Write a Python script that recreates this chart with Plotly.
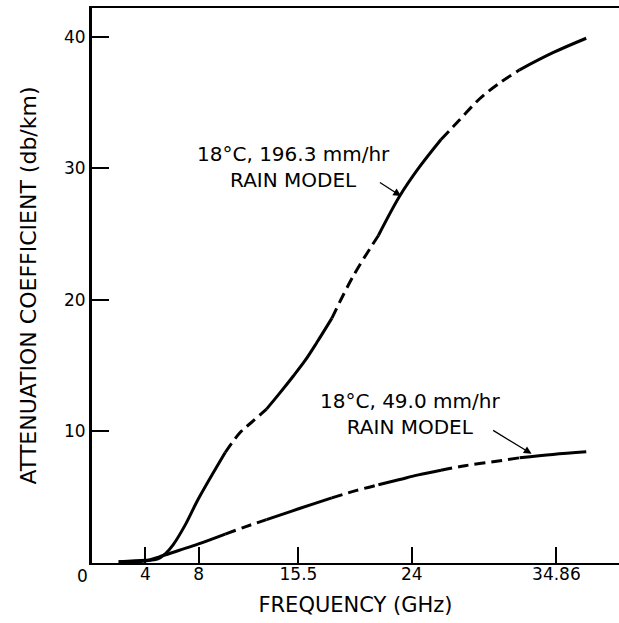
import plotly.graph_objects as go

# ── Values ─────────────────────────────────────────────────────────────────
FREQ_HIGH = [2.0, 4.0, 4.9, 5.5, 6.1, 7.0, 8.0, 10.0, 11.1, 12.1, 13.1, 14.0,
             15.1, 16.0, 16.9, 18.0, 19.6, 21.5, 23.1, 24.5, 26.2, 27.6, 29.1,
             30.6, 32.1, 34.6, 37.1]
ATTEN_HIGH = [0.1, 0.2, 0.3, 0.7, 1.4, 2.9, 4.9, 8.4, 9.9, 10.8, 11.7, 12.8,
              14.2, 15.4, 16.8, 18.6, 21.8, 24.9, 27.9, 30.0, 32.2, 33.7, 35.3,
              36.5, 37.5, 38.8, 39.9]

FREQ_LOW = [2.0, 4.0, 5.0, 6.5, 8.0, 10.0, 11.5, 13.1, 15.0, 16.8, 18.0, 19.8,
            21.5, 23.1, 24.5, 26.2, 28.0, 30.1, 32.1, 34.6, 37.1]
ATTEN_LOW = [0.1, 0.15, 0.45, 0.95, 1.45, 2.2, 2.75, 3.3, 3.95, 4.55, 4.95, 5.5,
             5.95, 6.35, 6.7, 7.05, 7.4, 7.7, 8.0, 8.25, 8.45]

X_TICKS = [4, 8, 15.5, 24, 34.86]
X_TICK_TEXT = ["4", "8", "15.5", "24", "34.86"]
Y_TICKS = [10, 20, 30, 40]

LABEL_HIGH = "18°C, 196.3 mm/hr<br>RAIN MODEL"
LABEL_LOW = "18°C, 49.0 mm/hr<br>RAIN MODEL"

# ── Style ──────────────────────────────────────────────────────────────────
# the original alternates solid and dashed stretches along each curve
SEGMENT_BREAKS = [2.0, 10.0, 13.1, 18.0, 21.5, 26.2, 32.1, 37.1]
DASH = "11px,6px"
INK = "black"
FONT = "DejaVu Sans"


def add_curve(fig, xs, ys):
    for i in range(len(SEGMENT_BREAKS) - 1):
        lo, hi = SEGMENT_BREAKS[i], SEGMENT_BREAKS[i + 1]
        pts = [(x, y) for x, y in zip(xs, ys) if lo <= x <= hi]
        fig.add_trace(go.Scatter(
            x=[p[0] for p in pts],
            y=[p[1] for p in pts],
            mode="lines",
            line=dict(color=INK, width=3, shape="spline",
                      dash="solid" if i % 2 == 0 else DASH),
            showlegend=False,
            hoverinfo="skip",
        ))


fig = go.Figure()
add_curve(fig, FREQ_HIGH, ATTEN_HIGH)
add_curve(fig, FREQ_LOW, ATTEN_LOW)

# curve labels with their pointer arrows
fig.add_annotation(x=15.1, y=30.1, text=LABEL_HIGH, showarrow=False,
                   font=dict(size=20))
fig.add_annotation(x=23.2, y=27.9, ax=21.5, ay=29.0, axref="x", ayref="y",
                   text="", showarrow=True, arrowhead=2, arrowsize=1.2,
                   arrowwidth=1.3, arrowcolor=INK)
fig.add_annotation(x=23.9, y=11.35, text=LABEL_LOW, showarrow=False,
                   font=dict(size=20))
fig.add_annotation(x=33.0, y=8.3, ax=30.0, ay=10.15, axref="x", ayref="y",
                   text="", showarrow=True, arrowhead=2, arrowsize=1.2,
                   arrowwidth=1.3, arrowcolor=INK)
# origin label sits down-left of the corner
fig.add_annotation(x=0, y=0, text="0", showarrow=False, xshift=-10,
                   yshift=-13, font=dict(size=17))

fig.update_layout(
    width=619, height=623,
    margin=dict(l=92, r=0, t=8, b=60),
    paper_bgcolor="white",
    plot_bgcolor="white",
    font=dict(family=FONT, size=17, color=INK),
    showlegend=False,
    xaxis=dict(
        range=[0, 39.56],
        tickvals=X_TICKS, ticktext=X_TICK_TEXT,
        ticks="inside", ticklen=16, tickwidth=1.5, tickcolor=INK,
        ticklabelstandoff=-5,
        showline=True, linewidth=2, linecolor=INK, mirror=True,
        showgrid=False, zeroline=False, automargin=False,
        title=dict(text="FREQUENCY (GHz)", font=dict(size=21), standoff=14),
    ),
    yaxis=dict(
        range=[0, 42.2],
        tickvals=Y_TICKS,
        ticks="inside", ticklen=17, tickwidth=1.5, tickcolor=INK,
        showline=True, linewidth=3, linecolor=INK,
        showgrid=False, zeroline=False, automargin=False,
        title=dict(text="ATTENUATION COEFFICIENT (db/km)", font=dict(size=22),
                   standoff=22),
    ),
)

# drop the browser's default body margin so the figure fills the window
fig.write_html("out.html",
               config={"displayModeBar": False},
               post_script="document.body.style.margin='0';"
                           "document.body.style.overflow='hidden';")
